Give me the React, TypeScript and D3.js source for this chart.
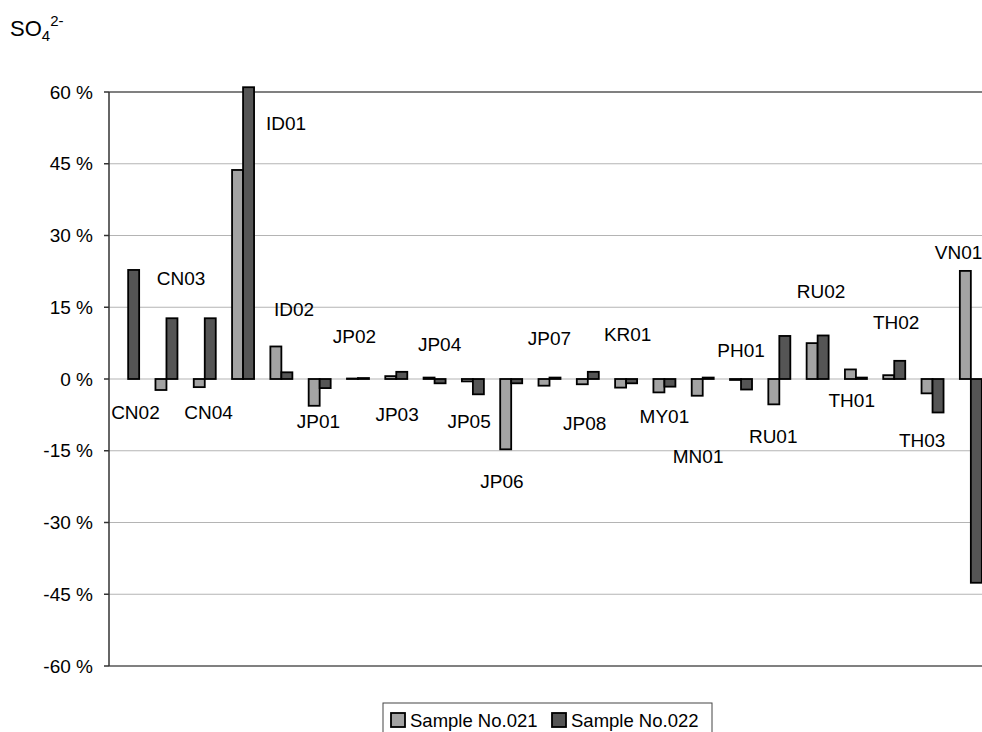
import React from "react";
import * as d3 from "d3";

const categories = ["CN02","CN03","CN04","ID01","ID02","JP01","JP02","JP03","JP04","JP05","JP06","JP07","JP08","KR01","MY01","MN01","PH01","RU01","RU02","TH01","TH02","TH03","VN01"];
const sample021 = [0, -2.3, -1.7, 43.7, 6.8, -5.6, 0.1, 0.6, 0.3, -0.5, -14.7, -1.4, -1.1, -1.8, -2.8, -3.5, -0.2, -5.3, 7.5, 2.0, 0.8, -3.0, 22.6];
const sample022 = [22.8, 12.7, 12.7, 61, 1.4, -1.9, 0.2, 1.5, -0.9, -3.2, -0.9, 0.3, 1.5, -0.9, -1.6, 0.3, -2.2, 9.0, 9.1, 0.3, 3.8, -7.0, -42.6];
// label anchor: value position (%) and horizontal shift (fraction of step)
const labelValue = [-6.9, 21.1, -6.9, 53.5, 14.6, -8.9, 9.0, -7.3, 7.3, -8.9, -21.5, 8.6, -9.2, 9.4, -7.9, -16.1, 5.9, -11.9, 18.4, -4.5, 11.8, -12.9, 26.4];
const labelShift = [0.19, 0.38, 0.1, 1.12, 0.33, -0.03, -0.09, 0.02, 0.13, -0.1, -0.24, 0, -0.08, 0.04, 0, -0.12, 0, -0.16, 0.09, -0.11, 0.05, -0.27, -0.32];
const yTicks = [60, 45, 30, 15, 0, -15, -30, -45, -60];
const seriesNames = ["Sample No.021", "Sample No.022"];
const seriesColors = ["#a3a3a3", "#555555"];

export default function App() {
  const left = 109, right = 990, top = 92, bottom = 666;
  const x = d3.scaleBand<string>().domain(categories).range([left, right]).paddingInner(0.4256).paddingOuter(0.2128);
  const xs = d3.scaleBand<number>().domain([0, 1]).range([0, x.bandwidth()]);
  const y = d3.scaleLinear().domain([-60, 60]).range([bottom, top]);
  const series = [sample021, sample022];
  const font = "'Liberation Sans', Arial, sans-serif";

  return (
    <svg width={982} height={732} style={{ position: "absolute", left: 0, top: 0, background: "#fff" }} fontFamily={font}>
      {/* title */}
      <text x={10} y={36} fontSize={22} fill="#000">
        SO<tspan fontSize={15} dy={5}>4</tspan><tspan fontSize={15} dy={-15}>2-</tspan>
      </text>
      {/* gridlines */}
      {yTicks.map((t) => (
        <line key={"g" + t} x1={left} x2={right} y1={y(t)} y2={y(t)}
          stroke={t === 60 || t === -60 ? "#808080" : "#b4b4b4"} strokeWidth={t === 60 || t === -60 ? 2 : 1.2} />
      ))}
      {/* left axis */}
      <line x1={left} x2={left} y1={top} y2={bottom} stroke="#333" strokeWidth={1.5} />
      {yTicks.map((t) => (
        <g key={"t" + t}>
          <line x1={left - 5} x2={left} y1={y(t)} y2={y(t)} stroke="#333" strokeWidth={1.5} />
          <text x={93} y={y(t)} dy="0.35em" textAnchor="end" fontSize={19} fill="#000">{t} %</text>
        </g>
      ))}
      {/* bars */}
      {series.map((vals, si) => (
        <g key={"s" + si}>
          {vals.map((v, i) => {
            const bx = (x(categories[i]) as number) + (xs(si) as number);
            const y0 = y(Math.max(0, v));
            const h = Math.abs(y(v) - y(0));
            return (
              <rect key={i} x={bx} y={y0} width={xs.bandwidth()} height={h}
                fill={seriesColors[si]} stroke="#000" strokeWidth={1.8} />
            );
          })}
        </g>
      ))}
      {/* category labels */}
      {categories.map((c, i) => (
        <text key={"l" + c} x={(x(c) as number) + x.bandwidth() / 2 + labelShift[i] * x.step()} y={y(labelValue[i])}
          dy="0.35em" textAnchor="middle" fontSize={19} fill="#000">{c}</text>
      ))}
      {/* legend */}
      <rect x={383} y={703} width={329} height={40} fill="#fff" stroke="#444" strokeWidth={1} />
      {seriesNames.map((n, i) => {
        const lx = i === 0 ? 391 : 552;
        return (
          <g key={"lg" + i}>
            <rect x={lx} y={713} width={14} height={14} fill={seriesColors[i]} stroke="#000" strokeWidth={1.8} />
            <text x={lx + 19} y={727} fontSize={18.5} fill="#000">{n}</text>
          </g>
        );
      })}
    </svg>
  );
}
